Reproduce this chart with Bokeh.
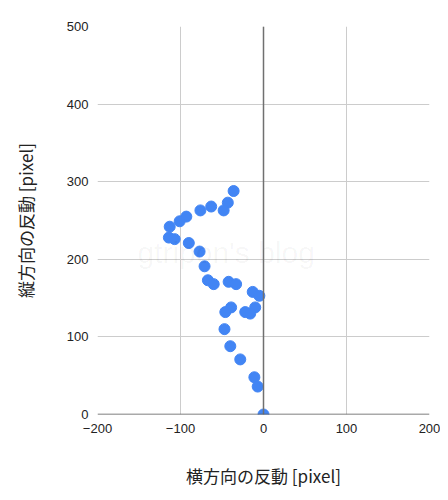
from bokeh.plotting import figure
from bokeh.models import Span, Label, FixedTicker, ColumnDataSource
from bokeh.embed import file_html
from bokeh.resources import INLINE

# Horizontal recoil [pixel]
recoil_x = [-36, -43, -48, -63, -76, -93, -101, -113, -114, -107, -90, -77, -71, -67, -60,
            -42, -33, -13, -5, -10, -22, -16, -39, -46, -47, -40, -28, -11, -7, 0]
# Vertical recoil [pixel]
recoil_y = [288, 273, 263, 268, 263, 255, 249, 242, 228, 226, 221, 210, 191, 173, 168,
            171, 168, 158, 153, 138, 132, 130, 138, 132, 110, 88, 71, 48, 36, 0]

x_ticks = [-200, -100, 0, 100, 200]
y_ticks = [0, 100, 200, 300, 400, 500]

src = ColumnDataSource(dict(x=recoil_x, y=recoil_y))

p = figure(width=440, height=490, output_backend="svg", toolbar_location=None,
           x_range=(-200, 200), y_range=(0, 500),
           min_border_left=97, min_border_right=11, min_border_top=26, min_border_bottom=76)
p.outline_line_color = None
p.background_fill_color = "white"

p.xaxis.ticker = FixedTicker(ticks=x_ticks)
p.yaxis.ticker = FixedTicker(ticks=y_ticks)
for ax in (p.xaxis[0], p.yaxis[0]):
    ax.axis_line_color = None
    ax.major_tick_line_color = None
    ax.minor_tick_line_color = None
    ax.major_tick_out = 0
    ax.major_tick_in = 0
    ax.major_label_text_font = "Liberation Sans"
    ax.major_label_text_font_size = "13px"
    ax.major_label_text_color = "#222222"
    ax.axis_label_text_font = "Noto Sans CJK JP"
    ax.axis_label_text_font_size = "17px"
    ax.axis_label_text_font_style = "normal"
    ax.axis_label_text_color = "#222222"

p.xaxis.axis_label = "横方向の反動 [pixel]"
p.yaxis.axis_label = "縦方向の反動 [pixel]"
p.xaxis.major_label_standoff = 9
p.yaxis.major_label_standoff = 9
p.xaxis.axis_label_standoff = 27
p.yaxis.axis_label_standoff = 26

p.xgrid.grid_line_color = "#cccccc"
p.ygrid.grid_line_color = "#cccccc"

wm = Label(x=-45, y=209, text="gtripon's blog", text_align="center", text_baseline="middle",
           text_font="Liberation Sans", text_font_size="30px", text_color="#000000", text_alpha=0.04)
p.add_layout(wm)

p.add_layout(Span(location=0, dimension="height", line_color="#707070", line_width=1.5))

p.scatter("x", "y", source=src, size=11, color="#4285F4", line_color="#4285F4")

p.add_layout(Span(location=0, dimension="width", line_color="#555555", line_width=1.5))

open("out.html", "w").write(file_html(p, INLINE))
